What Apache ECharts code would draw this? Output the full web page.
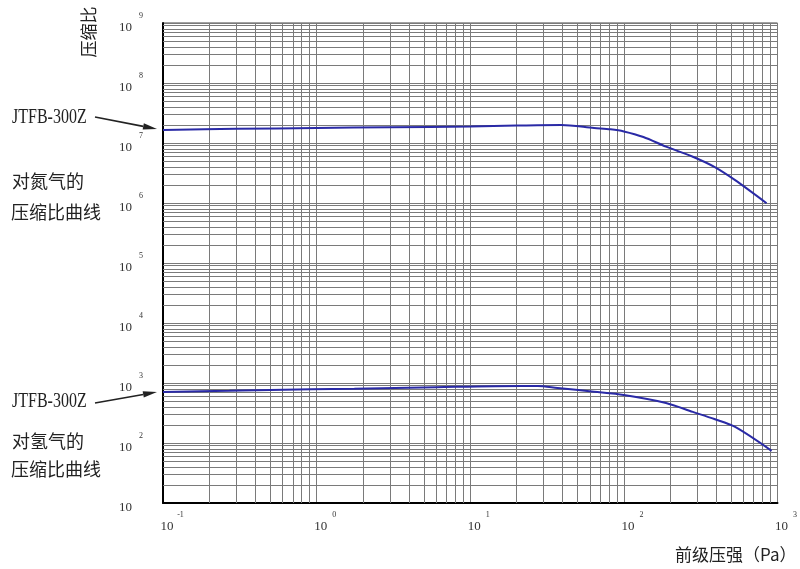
<!DOCTYPE html>
<html>
<head>
<meta charset="utf-8">
<script src="https://cdn.jsdelivr.net/npm/echarts@6/dist/echarts.min.js"></script>
<style>html,body{margin:0;padding:0;background:#fff;}#c{width:800px;height:569px;}</style>
</head>
<body>
<div id="c"></div>
<script>
// ---- data ----
const xTicks = [0.1, 1, 10, 100, 1000];
const yTicks = [10, 1e2, 1e3, 1e4, 1e5, 1e6, 1e7, 1e8, 1e9];
const minorMultipliers = [2, 3, 4, 5, 6, 7, 8, 9];

const n2Pressure = [0.1, 0.3, 1, 3, 10, 20, 39, 64, 82, 100, 134, 188, 281, 388, 530, 849];
const n2Ratio    = [1.65e7, 1.72e7, 1.78e7, 1.83e7, 1.88e7, 1.95e7, 2.0e7, 1.78e7, 1.69e7, 1.56e7, 1.26e7, 8.7e6, 5.9e6, 4.0e6, 2.4e6, 9.9e5];

const h2Pressure = [0.1, 0.27, 0.92, 1.76, 6, 21.7, 27.5, 37, 64, 100, 188, 281, 388, 530, 915];
const h2Ratio    = [708, 741, 785, 800, 850, 891, 891, 826, 716, 631, 464, 330, 251, 185, 74];

const seriesNames = ['JTFB-300Z 对氮气的压缩比曲线', 'JTFB-300Z 对氢气的压缩比曲线'];

// ---- build ----
function exp10(v) { return Math.round(Math.log10(v)); }
const minorX = [], minorY = [];
xTicks.slice(0, -1).forEach(d => minorMultipliers.forEach(m => minorX.push({ xAxis: m * d })));
yTicks.slice(0, -1).forEach(d => minorMultipliers.forEach(m => minorY.push({ yAxis: m * d })));

const gridColor = '#7a7a7a';
const lineColor = '#2a2aa6';
const serif = '"Liberation Serif", "Noto Sans CJK SC", serif';
const cjk = '"Noto Sans CJK SC", sans-serif';

function arrow(x1, y1, x2, y2) {
  const dx = x2 - x1, dy = y2 - y1, L = Math.hypot(dx, dy);
  const ux = dx / L, uy = dy / L, len = 14, w = 3.2;
  const bx = x2 - ux * len, by = y2 - uy * len;
  return [
    { type: 'line', shape: { x1: x1, y1: y1, x2: bx, y2: by }, style: { stroke: '#222', lineWidth: 1.6 } },
    { type: 'polygon', shape: { points: [[x2, y2], [bx - uy * w, by + ux * w], [bx + uy * w, by - ux * w]] }, style: { fill: '#222' } }
  ];
}
function txt(x, y, s, size, font, extra) {
  return Object.assign({ type: 'text', x: x, y: y, style: { text: s, fontSize: size, fontFamily: font, fill: '#222', textVerticalAlign: 'middle' } }, extra || {});
}

const chart = echarts.init(document.getElementById('c'), null, { renderer: 'canvas' });
chart.setOption({
  animation: false,
  backgroundColor: '#fff',
  grid: { left: 163, right: 14, top: 23, bottom: 66, show: true, borderColor: '#444', borderWidth: 1 },
  xAxis: {
    type: 'log', logBase: 10, min: xTicks[0], max: xTicks[xTicks.length - 1],
    axisLine: { show: true, lineStyle: { color: '#000', width: 2 } },
    axisTick: { show: false },
    splitLine: { show: true, lineStyle: { color: gridColor, width: 1 } },
    axisLabel: {
      margin: 8, color: '#333',
      formatter: v => '{e|}{b|10}{s|' + exp10(v) + '}',
      rich: {
        e: { width: 22 },
        b: { fontSize: 13, fontFamily: serif, color: '#333', lineHeight: 22, verticalAlign: 'bottom' },
        s: { fontSize: 8, fontFamily: serif, color: '#333', width: 14, align: 'center', verticalAlign: 'top' }
      }
    }
  },
  yAxis: {
    type: 'log', logBase: 10, min: yTicks[0], max: yTicks[yTicks.length - 1],
    axisLine: { show: true, lineStyle: { color: '#000', width: 2 } },
    axisTick: { show: false },
    splitLine: { show: true, lineStyle: { color: gridColor, width: 1 } },
    axisLabel: {
      margin: 13, color: '#333',
      formatter: v => '{b|10}{s|' + (exp10(v) === 1 ? '' : exp10(v)) + '}',
      rich: {
        b: { fontSize: 13, fontFamily: serif, color: '#333', lineHeight: 22, verticalAlign: 'bottom' },
        s: { fontSize: 8, fontFamily: serif, color: '#333', width: 18, align: 'center', verticalAlign: 'top' }
      }
    }
  },
  series: [
    {
      type: 'line', name: 'grid', data: [[1, 1e5]], showSymbol: false, symbol: 'none', silent: true, z: 1,
      lineStyle: { opacity: 0 },
      markLine: {
        silent: true, symbol: ['none', 'none'], label: { show: false }, animation: false,
        lineStyle: { type: 'solid', color: gridColor, width: 1 },
        data: minorX.concat(minorY)
      }
    },
    {
      type: 'line', name: seriesNames[0], z: 5, symbol: 'none', smooth: 0.3,
      lineStyle: { color: lineColor, width: 2 },
      data: n2Pressure.map((p, i) => [p, n2Ratio[i]])
    },
    {
      type: 'line', name: seriesNames[1], z: 5, symbol: 'none', smooth: 0.3,
      lineStyle: { color: lineColor, width: 2 },
      data: h2Pressure.map((p, i) => [p, h2Ratio[i]])
    }
  ],
  graphic: [
    txt(89, 32, '压缩比', 17, cjk, { rotation: Math.PI / 2, style: { text: '压缩比', fontSize: 17, fontFamily: cjk, fill: '#222', textAlign: 'center', textVerticalAlign: 'middle' } }),
    txt(675, 555, '前级压强（Pa）', 17, cjk),
    txt(12, 118, 'JTFB-300Z', 20, serif, { scaleX: 0.8 }),
    txt(12, 181, '对氮气的', 18, cjk),
    txt(11, 212, '压缩比曲线', 18, cjk),
    txt(12, 402, 'JTFB-300Z', 20, serif, { scaleX: 0.8 }),
    txt(12, 441, '对氢气的', 18, cjk),
    txt(11, 469, '压缩比曲线', 18, cjk)
  ].concat(arrow(95, 117, 157, 129), arrow(95, 403, 157, 392))
});
</script>
</body>
</html>
